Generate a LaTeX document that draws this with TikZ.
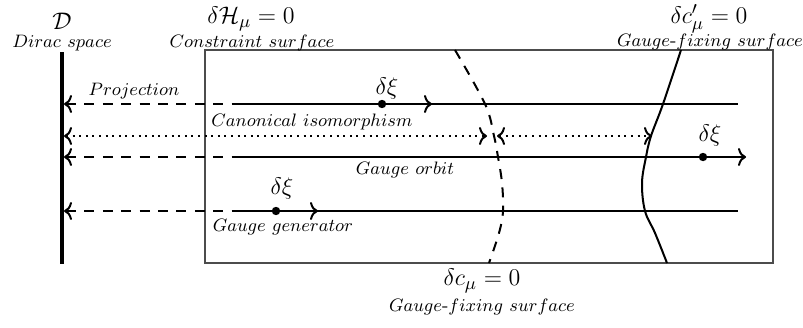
\documentclass[tikz,border=0pt]{standalone}
\usetikzlibrary{arrows.meta}
\begin{document}
\begin{tikzpicture}[x=0.5pt,y=-0.5pt,
  captext/.style={font=\fontsize{9.3}{11}\selectfont, inner sep=0pt},
  eqtext/.style={font=\fontsize{12.5}{14}\selectfont, inner sep=0pt},
  tipA/.style={-{Computer Modern Rightarrow[length=4pt,width=9pt]}},
  tipL/.style={{Computer Modern Rightarrow[length=4pt,width=9pt]}-},
  tipB/.style={{Computer Modern Rightarrow[length=4pt,width=9pt]}-{Computer Modern Rightarrow[length=4pt,width=9pt]}},
  orbit/.style={line width=1pt},
  proj/.style={line width=1pt, dash pattern=on 5pt off 4.2pt},
  iso/.style={line width=1pt, dash pattern=on 1pt off 2.3pt},
  surf/.style={line width=1pt},
  dotnode/.style={circle, fill, inner sep=0pt, minimum size=4.2pt},
  boxline/.style={draw=black!70, line width=0.6pt}
]
\useasboundingbox (0,0) rectangle (803,327);

% constraint surface box
\coordinate (boxNW) at (205,50);
\coordinate (boxSE) at (773,263);
\draw[boxline] (boxNW) rectangle (boxSE);

% Dirac space
\coordinate (dTop) at (62,52);
\coordinate (dBot) at (62,264);
\draw[line width=2pt] (dTop) -- (dBot);

% gauge-fixing surfaces
\draw[proj] plot[smooth, tension=0.6] coordinates {(455,50) (485,104) (494,136) (498,157) (502,183) (503,211) (499,233) (489,263)};
\draw[surf] plot[smooth, tension=0.6] coordinates {(681,50) (663,104) (651,136) (646,157) (642,183) (645,211) (655,233) (667,263)};

% row 1
\coordinate (d1) at (64,104);
\coordinate (s1) at (242,104);
\coordinate (e1) at (738,104);
\coordinate (a1) at (432,104);
\node[dotnode] (p1) at (382,104) {};
\draw[proj, tipL] (d1) -- (s1);
\draw[orbit] (s1) -- (e1);
\draw[orbit, tipA] (p1) -- (a1);
\node[eqtext] (x1) at (387,88) {$\delta\xi$};

% row 2 (canonical isomorphism)
\coordinate (d2) at (64,136);
\coordinate (c2a) at (487,136);
\coordinate (c2b) at (497,136);
\coordinate (f2) at (652,136);
\draw[iso, tipB] (d2) -- (c2a);
\draw[iso, tipB] (c2b) -- (f2);

% row 3
\coordinate (d3) at (64,157);
\coordinate (s3) at (242,157);
\coordinate (e3) at (746,157);
\node[dotnode] (p3) at (703,157) {};
\draw[proj, tipL] (d3) -- (s3);
\draw[orbit, tipA] (s3) -- (e3);
\node[eqtext] (x3) at (710,135) {$\delta\xi$};

% row 4
\coordinate (d4) at (64,211);
\coordinate (s4) at (242,211);
\coordinate (e4) at (738,211);
\coordinate (a4) at (318,211);
\node[dotnode] (p4) at (276,211) {};
\draw[proj, tipL] (d4) -- (s4);
\draw[orbit] (s4) -- (e4);
\draw[orbit, tipA] (p4) -- (a4);
\node[eqtext] (x4) at (282,188) {$\delta\xi$};

% labels
\node[eqtext] (lD) at (62,21) {$\mathcal{D}$};
\node[captext] (lDs) at (62,43) {$Dirac\ space$};
\node[eqtext] (lH) at (251,19) {$\delta\mathcal{H}_\mu = 0$};
\node[captext] (lHs) at (252,43) {$Constraint\ surface$};
\node[eqtext] (lCp) at (709,19) {$\delta c'_\mu = 0$};
\node[captext] (lCps) at (710,42) {$Gauge\mbox{-}fixing\ surface$};
\node[eqtext] (lC) at (482,281) {$\delta c_\mu = 0$};
\node[captext] (lCs) at (482,307) {$Gauge\mbox{-}fixing\ surface$};
\node[captext] (lP) at (134,91) {$Projection$};
\node[captext] (lI) at (312,122) {$Canonical\ isomorphism$};
\node[captext] (lO) at (405,170) {$Gauge\ orbit$};
\node[captext] (lG) at (283,227) {$Gauge\ generator$};
\end{tikzpicture}
\end{document}
